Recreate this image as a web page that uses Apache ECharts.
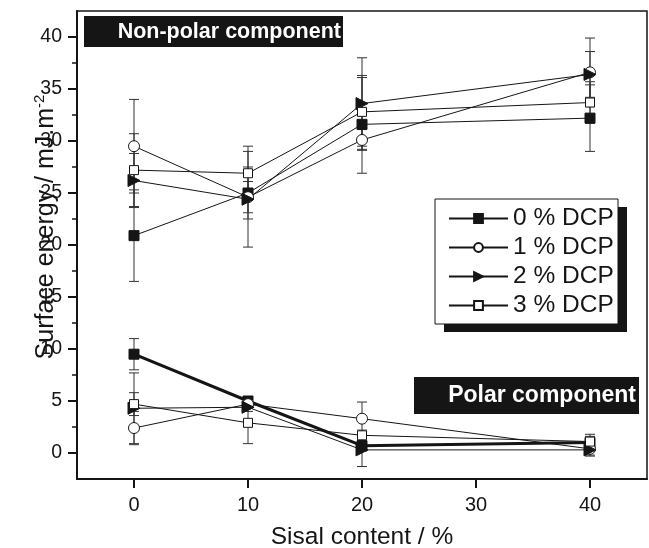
<!DOCTYPE html>
<html>
<head>
<meta charset="utf-8">
<script src="https://cdn.jsdelivr.net/npm/echarts@6/dist/echarts.min.js"></script>
<style>
  html, body { margin: 0; padding: 0; background: #fff; }
  #chart { width: 649px; height: 548px; }
</style>
</head>
<body>
<div id="chart"></div>
<script>
// sisal content (%) where the samples were measured
var sisal = [0, 10, 20, 40]
var dcpNames = ['0 % DCP', '1 % DCP', '2 % DCP', '3 % DCP']
var xTicks = [0, 10, 20, 30, 40]
var yTicks = [0, 5, 10, 15, 20, 25, 30, 35, 40]
var yMinorTicks = [2.5, 7.5, 12.5, 17.5, 22.5, 27.5, 32.5, 37.5]

// non-polar component, mJ.m-2
var nonPolar0 = [20.9, 25.0, 31.6, 32.2]
var nonPolar1 = [29.5, 24.6, 30.1, 36.6]
var nonPolar2 = [26.2, 24.4, 33.6, 36.4]
var nonPolar3 = [27.2, 26.9, 32.8, 33.7]
var nonPolarErr0 = [4.4, 2.5, 4.7, 3.2]
var nonPolarErr1 = [4.5, 1.5, 1.0, 3.3]
var nonPolarErr2 = [2.6, 4.6, 4.4, 2.2]
var nonPolarErr3 = [3.5, 2.6, 3.3, 2.0]

// polar component, mJ.m-2
var polar0 = [9.5, 5.0, 0.7, 1.0]
var polar1 = [2.4, 4.7, 3.3, 0.4]
var polar2 = [4.3, 4.4, 0.3, 0.3]
var polar3 = [4.7, 2.9, 1.7, 1.1]
var polarErr0 = [1.5, 0.4, 0.5, 0.8]
var polarErr1 = [1.6, 0.4, 1.6, 0.7]
var polarErr2 = [3.4, 0.4, 1.6, 0.5]
var polarErr3 = [1.1, 2.0, 0.5, 0.5]

var ink = '#151515'
var font = 'Liberation Sans, Arial, sans-serif'
var triangle = 'path://M0,0L10,5L0,10Z'

// marker look per DCP level: symbol, size, filled
var marks = [
    ['rect', 10, true],
    ['circle', 11, false],
    [triangle, 12, true],
    ['rect', 9, false]
]

function toPoints(vals) {
    return sisal.map(function(x, i) { return [x, vals[i]] })
}

function lineSeries(k, vals, width) {
    return {
        name: dcpNames[k],
        type: 'line',
        data: toPoints(vals),
        symbol: marks[k][0],
        symbolSize: marks[k][1],
        showAllSymbol: true,
        lineStyle: { color: ink, width: width },
        itemStyle: { color: marks[k][2] ? ink : '#fff', borderColor: ink, borderWidth: 1 },
        z: 3
    }
}

function errorSeries(vals, errs) {
    return {
        type: 'custom',
        silent: true,
        data: sisal.map(function(x, i) { return [x, vals[i] - errs[i], vals[i] + errs[i]] }),
        encode: { x: 0, y: [1, 2] },
        renderItem: function(params, api) {
            var lo = api.coord([api.value(0), api.value(1)])
            var hi = api.coord([api.value(0), api.value(2)])
            var w = 5
            var st = { stroke: '#333', lineWidth: 1 }
            return {
                type: 'group',
                children: [
                    { type: 'line', shape: { x1: lo[0], y1: lo[1], x2: hi[0], y2: hi[1] }, style: st },
                    { type: 'line', shape: { x1: lo[0] - w, y1: lo[1], x2: lo[0] + w, y2: lo[1] }, style: st },
                    { type: 'line', shape: { x1: hi[0] - w, y1: hi[1], x2: hi[0] + w, y2: hi[1] }, style: st }
                ]
            }
        },
        z: 1
    }
}

var series = [
    errorSeries(nonPolar0, nonPolarErr0),
    errorSeries(nonPolar1, nonPolarErr1),
    errorSeries(nonPolar2, nonPolarErr2),
    errorSeries(nonPolar3, nonPolarErr3),
    errorSeries(polar0, polarErr0),
    errorSeries(polar1, polarErr1),
    errorSeries(polar2, polarErr2),
    errorSeries(polar3, polarErr3),
    lineSeries(0, nonPolar0, 1),
    lineSeries(1, nonPolar1, 1),
    lineSeries(2, nonPolar2, 1),
    lineSeries(3, nonPolar3, 1),
    lineSeries(0, polar0, 3),
    lineSeries(1, polar1, 1),
    lineSeries(2, polar2, 1),
    lineSeries(3, polar3, 1)
]

var chart = echarts.init(document.getElementById('chart'))

chart.setOption({
    animation: false,
    backgroundColor: '#fff',
    grid: {
        left: 77, right: 2, top: 11, bottom: 69,
        outerBoundsMode: 'none',
        show: true, borderColor: ink, borderWidth: 1.5
    },
    xAxis: {
        type: 'value',
        min: -5,
        max: 45,
        name: 'Sisal content / %',
        nameLocation: 'middle',
        nameGap: 46,
        nameMoveOverlap: false,
        nameTextStyle: { fontSize: 24.5, color: ink, fontFamily: font },
        axisLine: { onZero: false, lineStyle: { color: ink, width: 2 } },
        axisTick: { length: 9, lineStyle: { color: ink, width: 2 }, customValues: xTicks },
        axisLabel: { fontSize: 20, color: ink, fontFamily: font, margin: 16, customValues: xTicks },
        splitLine: { show: false }
    },
    yAxis: [{
        type: 'value',
        position: 'left',
        min: -2.5,
        max: 42.5,
        name: '{a|Surface energy / mJ.m}{b|-2}',
        nameLocation: 'middle',
        nameRotate: 90,
        nameGap: 17,
        nameMoveOverlap: false,
        nameTextStyle: {
            color: ink,
            fontFamily: font,
            padding: [0, 0, 0, 36],
            rich: {
                a: { fontSize: 25, fontFamily: font, color: ink, lineHeight: 28 },
                b: { fontSize: 15, fontFamily: font, color: ink, verticalAlign: 'top', lineHeight: 15 }
            }
        },
        axisLine: { onZero: false, lineStyle: { color: ink, width: 2 } },
        axisTick: { length: 9, lineStyle: { color: ink, width: 2 }, customValues: yTicks },
        axisLabel: { fontSize: 19.5, color: ink, fontFamily: font, margin: 15, customValues: yTicks },
        splitLine: { show: false }
    }, {
        type: 'value',
        position: 'left',
        min: -2.5,
        max: 42.5,
        axisLine: { show: false, onZero: false },
        axisTick: { length: 5, lineStyle: { color: ink, width: 1.5 }, customValues: yMinorTicks },
        axisLabel: { show: false },
        splitLine: { show: false }
    }],
    legend: {
        orient: 'vertical',
        left: 435,
        top: 199,
        data: dcpNames,
        selectedMode: false,
        itemWidth: 59,
        itemHeight: 11,
        itemGap: 4,
        padding: [7, 2, 10, 13],
        textStyle: { fontSize: 24.5, color: ink, fontFamily: font },
        z: 20
    },
    graphic: [
        // legend frame with its hard drop shadow
        { type: 'rect', x: 444, y: 207, shape: { width: 183, height: 125 }, style: { fill: ink }, z: 5 },
        { type: 'rect', x: 435, y: 199, shape: { width: 183, height: 125 }, style: { fill: '#fff', stroke: ink, lineWidth: 1 }, z: 6 },
        { type: 'rect', x: 84, y: 16, shape: { width: 259, height: 31 }, style: { fill: ink }, z: 10 },
        {
            type: 'text', x: 341, y: 32, z: 11,
            style: {
                text: 'Non-polar component', fill: '#fff',
                font: 'bold 21.5px ' + font,
                textAlign: 'right', textVerticalAlign: 'middle', align: 'right', verticalAlign: 'middle'
            }
        },
        { type: 'rect', x: 414, y: 377, shape: { width: 225, height: 37 }, style: { fill: ink }, z: 10 },
        {
            type: 'text', x: 636, y: 396, z: 11,
            style: {
                text: 'Polar component', fill: '#fff',
                font: 'bold 23px ' + font,
                textAlign: 'right', textVerticalAlign: 'middle', align: 'right', verticalAlign: 'middle'
            }
        }
    ],
    series: series
})
</script>
</body>
</html>
